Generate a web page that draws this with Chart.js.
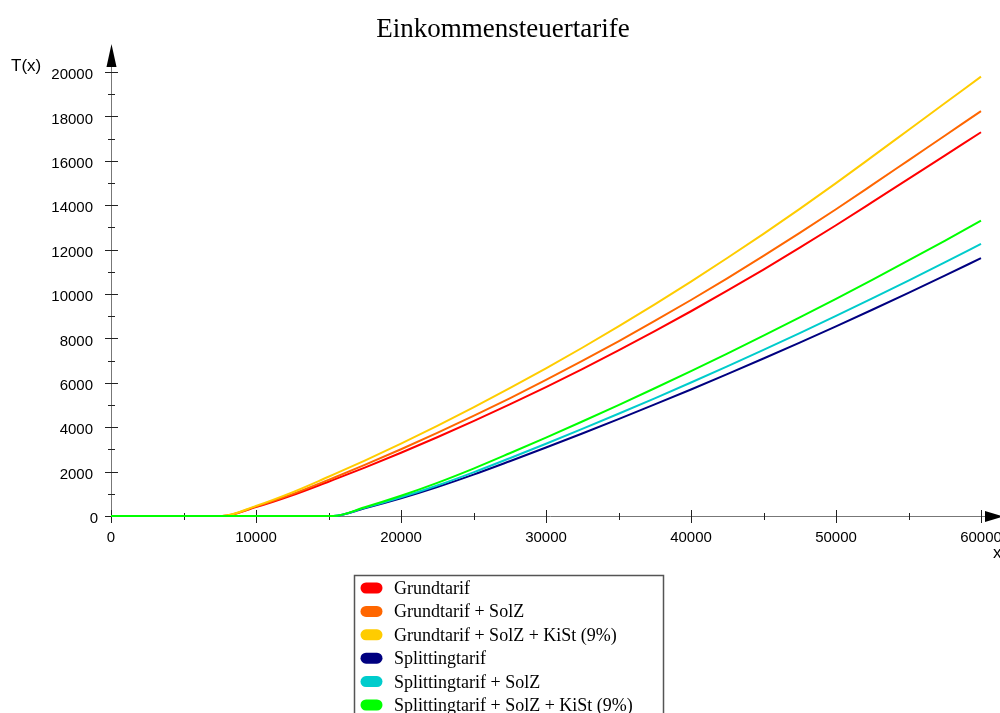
<!DOCTYPE html>
<html>
<head>
<meta charset="utf-8">
<script src="https://cdn.jsdelivr.net/npm/chart.js@4/dist/chart.umd.min.js"></script>
<style>
  html, body { margin: 0; padding: 0; background: #fff; overflow: hidden; }
  #wrap { width: 1000px; height: 713px; position: relative; }
</style>
</head>
<body>
<div id="wrap"><canvas id="chart"></canvas></div>
<script>
// income x (Euro) and tax values
const incomes = [0, 7664, 10000, 12500, 15000, 15329, 17500, 20000, 22500, 25000, 27500, 30000,
                 32500, 35000, 37500, 40000, 42500, 45000, 47500, 50000, 52500, 55000, 57500, 60000];

const grundtarif      = [0, 0, 399, 932, 1543, 1625, 2182, 2850, 3547, 4272, 5026, 5808,
                         6619, 7458, 8327, 9223, 10149, 11102, 12085, 13096, 14136, 15186, 16236, 17286];
const grundSolz       = [0, 0, 421, 983, 1628, 1714, 2302, 3007, 3742, 4507, 5302, 6127,
                         6983, 7868, 8785, 9730, 10707, 11713, 12750, 13816, 14913, 16021, 17129, 18237];
const grundSolzKist   = [0, 0, 457, 1067, 1767, 1861, 2498, 3263, 4061, 4891, 5755, 6650,
                         7579, 8539, 9534, 10560, 11621, 12712, 13837, 14995, 16186, 17388, 18590, 19792];
const splitting       = [0, 0, 0, 0, 0, 0, 347, 797, 1303, 1864, 2467, 3085,
                         3718, 4364, 5025, 5700, 6389, 7094, 7811, 8544, 9290, 10052, 10826, 11616];
const splitSolz       = [0, 0, 0, 0, 0, 0, 366, 841, 1375, 1967, 2603, 3255,
                         3922, 4604, 5301, 6014, 6740, 7484, 8241, 9014, 9801, 10605, 11421, 12255];
const splitSolzKist   = [0, 0, 0, 0, 0, 0, 397, 913, 1492, 2134, 2825, 3532,
                         4257, 4997, 5754, 6527, 7315, 8123, 8944, 9783, 10637, 11510, 12396, 13300];

const seriesNames = ['Grundtarif', 'Grundtarif + SolZ', 'Grundtarif + SolZ + KiSt (9%)',
                     'Splittingtarif', 'Splittingtarif + SolZ', 'Splittingtarif + SolZ + KiSt (9%)'];
const seriesData = [grundtarif, grundSolz, grundSolzKist, splitting, splitSolz, splitSolzKist];
const seriesColors = ['#ff0000', '#ff6600', '#ffcc00', '#000080', '#00cccc', '#00ff00'];

const xTicks = [0, 10000, 20000, 30000, 40000, 50000, 60000];
const yTicks = [0, 2000, 4000, 6000, 8000, 10000, 12000, 14000, 16000, 18000, 20000];

const titleText = 'Einkommensteuertarife';
const yAxisName = 'T(x)';
const xAxisName = 'x';

const sansFont = '"Liberation Sans", Arial, sans-serif';
const serifFont = '"Liberation Serif", "Times New Roman", serif';

// axes with arrows, ticks, title and boxed legend
const decorations = {
  id: 'decorations',
  beforeDatasetsDraw(chart) {
    const ctx = chart.ctx;
    const xs = chart.scales.x, ys = chart.scales.y;
    const x0 = xs.getPixelForValue(0), y0 = ys.getPixelForValue(0);
    ctx.save();

    // axis lines
    ctx.strokeStyle = '#777';
    ctx.lineWidth = 1;
    ctx.beginPath();
    ctx.moveTo(x0 + 0.5, y0);
    ctx.lineTo(x0 + 0.5, 62);
    ctx.moveTo(x0, y0 + 0.5);
    ctx.lineTo(990, y0 + 0.5);
    ctx.stroke();

    // arrow heads
    ctx.fillStyle = '#000';
    ctx.beginPath();
    ctx.moveTo(x0 + 0.5, 44);
    ctx.lineTo(x0 - 4.5, 67);
    ctx.lineTo(x0 + 5.5, 67);
    ctx.closePath();
    ctx.fill();
    ctx.beginPath();
    ctx.moveTo(1003, y0 + 0.5);
    ctx.lineTo(985, y0 - 5);
    ctx.lineTo(985, y0 + 6);
    ctx.closePath();
    ctx.fill();

    // ticks
    ctx.strokeStyle = '#222';
    ctx.beginPath();
    yTicks.forEach((v, i) => {
      const py = Math.round(ys.getPixelForValue(v)) + 0.5;
      ctx.moveTo(x0 - 6, py); ctx.lineTo(x0 + 7, py);
      if (i < yTicks.length - 1) {
        const my = Math.round(ys.getPixelForValue((v + yTicks[i + 1]) / 2)) + 0.5;
        ctx.moveTo(x0 - 3, my); ctx.lineTo(x0 + 4, my);
      }
    });
    xTicks.forEach((v, i) => {
      const px = Math.round(xs.getPixelForValue(v)) + 0.5;
      ctx.moveTo(px, y0 - 6); ctx.lineTo(px, y0 + 7);
      if (i < xTicks.length - 1) {
        const mx = Math.round(xs.getPixelForValue((v + xTicks[i + 1]) / 2)) + 0.5;
        ctx.moveTo(mx, y0 - 3); ctx.lineTo(mx, y0 + 4);
      }
    });
    ctx.stroke();

    // tick labels
    ctx.fillStyle = '#000';
    ctx.font = '15px ' + sansFont;
    ctx.textBaseline = 'middle';
    ctx.textAlign = 'right';
    yTicks.forEach(v => {
      const right = v === 0 ? x0 - 13 : x0 - 18;
      ctx.fillText(String(v), right, ys.getPixelForValue(v) + 3);
    });
    ctx.textAlign = 'center';
    xTicks.forEach(v => {
      ctx.fillText(String(v), xs.getPixelForValue(v), y0 + 22);
    });

    // axis names
    ctx.font = '17px ' + sansFont;
    ctx.textAlign = 'left';
    ctx.textBaseline = 'alphabetic';
    ctx.fillText(yAxisName, 11, 71);
    ctx.fillText(xAxisName, 993, 558);

    ctx.restore();
  },
  afterDraw(chart) {
    const ctx = chart.ctx;
    ctx.save();
    // title
    ctx.fillStyle = '#000';
    ctx.font = '27px ' + serifFont;
    ctx.textAlign = 'center';
    ctx.textBaseline = 'alphabetic';
    ctx.fillText(titleText, 503, 37);

    // legend box
    ctx.strokeStyle = '#555';
    ctx.lineWidth = 1.5;
    ctx.strokeRect(354.5, 575.5, 309, 160);
    ctx.font = '18px ' + serifFont;
    ctx.textAlign = 'left';
    chart.data.datasets.forEach((ds, i) => {
      const cy = 588 + i * 23.4;
      ctx.fillStyle = ds.borderColor;
      ctx.beginPath();
      ctx.moveTo(366, cy - 5.5);
      ctx.lineTo(377, cy - 5.5);
      ctx.arc(377, cy, 5.5, -Math.PI / 2, Math.PI / 2);
      ctx.lineTo(366, cy + 5.5);
      ctx.arc(366, cy, 5.5, Math.PI / 2, Math.PI * 1.5);
      ctx.closePath();
      ctx.fill();
      ctx.fillStyle = '#000';
      ctx.fillText(ds.label, 394, cy + 6);
    });
    ctx.restore();
  }
};

new Chart(document.getElementById('chart').getContext('2d'), {
  type: 'line',
  data: {
    datasets: seriesNames.map((name, i) => ({
      label: name,
      data: incomes.map((x, j) => ({ x: x, y: seriesData[i][j] })),
      borderColor: seriesColors[i],
      backgroundColor: seriesColors[i],
      borderWidth: 2,
      pointRadius: 0,
      cubicInterpolationMode: 'monotone',
      clip: false,
      order: seriesNames.length - i
    }))
  },
  options: {
    responsive: true,
    maintainAspectRatio: false,
    animation: false,
    layout: { padding: { left: 111, right: 19, top: 72, bottom: 197 } },
    scales: {
      x: { type: 'linear', min: 0, max: 60000, display: false },
      y: { type: 'linear', min: 0, max: 20000, display: false }
    },
    plugins: {
      legend: { display: false },
      tooltip: { enabled: false },
      title: { display: false }
    }
  },
  plugins: [decorations]
});
</script>
</body>
</html>
